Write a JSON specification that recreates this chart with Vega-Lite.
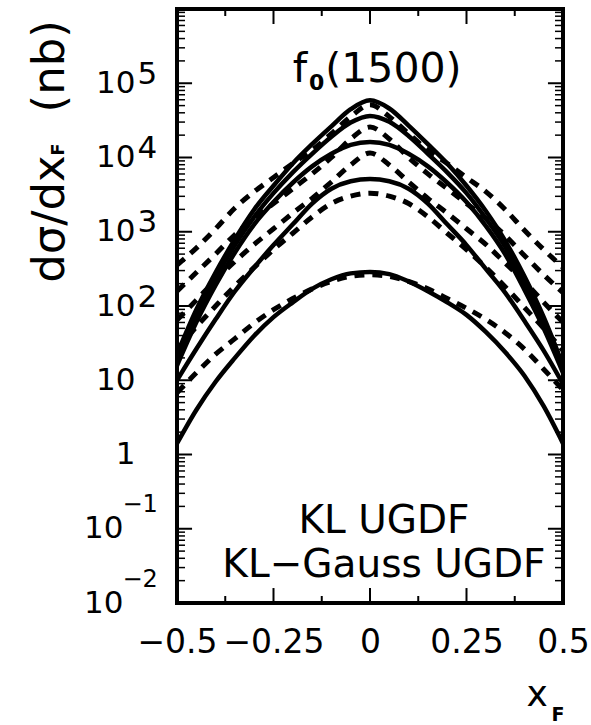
{
"$schema":"https://vega.github.io/schema/vega-lite/v6.json",
"width":386,"height":594,
"autosize":{"type":"none"},
"padding":{"left":177,"top":9,"right":28,"bottom":122},
"background":"white",
"config":{"view":{"stroke":"black","strokeWidth":4},"font":"DejaVu Sans","axis":{"grid":false,"domain":false,"labelColor":"black","titleColor":"black","tickColor":"black","labelFont":"DejaVu Sans","titleFont":"DejaVu Sans","labelOverlap":false,"labelFlush":false,"labelBound":false}},
"resolve":{"axis":{"x":"independent","y":"independent"}},
"datasets":{
"yticks":[
{"s":"L","t":"M","v":0.1,"a":-0.5,"b":-0.461},{"s":"L","t":"M","v":1,"a":-0.5,"b":-0.461},{"s":"L","t":"M","v":10,"a":-0.5,"b":-0.461},{"s":"L","t":"M","v":100,"a":-0.5,"b":-0.461},{"s":"L","t":"M","v":1000,"a":-0.5,"b":-0.461},{"s":"L","t":"M","v":10000,"a":-0.5,"b":-0.461},{"s":"L","t":"M","v":100000,"a":-0.5,"b":-0.461},
{"s":"R","t":"M","v":0.1,"a":0.461,"b":0.5},{"s":"R","t":"M","v":1,"a":0.461,"b":0.5},{"s":"R","t":"M","v":10,"a":0.461,"b":0.5},{"s":"R","t":"M","v":100,"a":0.461,"b":0.5},{"s":"R","t":"M","v":1000,"a":0.461,"b":0.5},{"s":"R","t":"M","v":10000,"a":0.461,"b":0.5},{"s":"R","t":"M","v":100000,"a":0.461,"b":0.5},
{"s":"L","t":"m","v":0.02,"a":-0.5,"b":-0.4793},{"s":"L","t":"m","v":0.03,"a":-0.5,"b":-0.4793},{"s":"L","t":"m","v":0.04,"a":-0.5,"b":-0.4793},{"s":"L","t":"m","v":0.05,"a":-0.5,"b":-0.4793},{"s":"L","t":"m","v":0.06,"a":-0.5,"b":-0.4793},{"s":"L","t":"m","v":0.07,"a":-0.5,"b":-0.4793},{"s":"L","t":"m","v":0.08,"a":-0.5,"b":-0.4793},{"s":"L","t":"m","v":0.09,"a":-0.5,"b":-0.4793},
{"s":"L","t":"m","v":0.2,"a":-0.5,"b":-0.4793},{"s":"L","t":"m","v":0.3,"a":-0.5,"b":-0.4793},{"s":"L","t":"m","v":0.4,"a":-0.5,"b":-0.4793},{"s":"L","t":"m","v":0.5,"a":-0.5,"b":-0.4793},{"s":"L","t":"m","v":0.6,"a":-0.5,"b":-0.4793},{"s":"L","t":"m","v":0.7,"a":-0.5,"b":-0.4793},{"s":"L","t":"m","v":0.8,"a":-0.5,"b":-0.4793},{"s":"L","t":"m","v":0.9,"a":-0.5,"b":-0.4793},
{"s":"L","t":"m","v":2,"a":-0.5,"b":-0.4793},{"s":"L","t":"m","v":3,"a":-0.5,"b":-0.4793},{"s":"L","t":"m","v":4,"a":-0.5,"b":-0.4793},{"s":"L","t":"m","v":5,"a":-0.5,"b":-0.4793},{"s":"L","t":"m","v":6,"a":-0.5,"b":-0.4793},{"s":"L","t":"m","v":7,"a":-0.5,"b":-0.4793},{"s":"L","t":"m","v":8,"a":-0.5,"b":-0.4793},{"s":"L","t":"m","v":9,"a":-0.5,"b":-0.4793},
{"s":"L","t":"m","v":20,"a":-0.5,"b":-0.4793},{"s":"L","t":"m","v":30,"a":-0.5,"b":-0.4793},{"s":"L","t":"m","v":40,"a":-0.5,"b":-0.4793},{"s":"L","t":"m","v":50,"a":-0.5,"b":-0.4793},{"s":"L","t":"m","v":60,"a":-0.5,"b":-0.4793},{"s":"L","t":"m","v":70,"a":-0.5,"b":-0.4793},{"s":"L","t":"m","v":80,"a":-0.5,"b":-0.4793},{"s":"L","t":"m","v":90,"a":-0.5,"b":-0.4793},
{"s":"L","t":"m","v":200,"a":-0.5,"b":-0.4793},{"s":"L","t":"m","v":300,"a":-0.5,"b":-0.4793},{"s":"L","t":"m","v":400,"a":-0.5,"b":-0.4793},{"s":"L","t":"m","v":500,"a":-0.5,"b":-0.4793},{"s":"L","t":"m","v":600,"a":-0.5,"b":-0.4793},{"s":"L","t":"m","v":700,"a":-0.5,"b":-0.4793},{"s":"L","t":"m","v":800,"a":-0.5,"b":-0.4793},{"s":"L","t":"m","v":900,"a":-0.5,"b":-0.4793},
{"s":"L","t":"m","v":2000,"a":-0.5,"b":-0.4793},{"s":"L","t":"m","v":3000,"a":-0.5,"b":-0.4793},{"s":"L","t":"m","v":4000,"a":-0.5,"b":-0.4793},{"s":"L","t":"m","v":5000,"a":-0.5,"b":-0.4793},{"s":"L","t":"m","v":6000,"a":-0.5,"b":-0.4793},{"s":"L","t":"m","v":7000,"a":-0.5,"b":-0.4793},{"s":"L","t":"m","v":8000,"a":-0.5,"b":-0.4793},{"s":"L","t":"m","v":9000,"a":-0.5,"b":-0.4793},
{"s":"L","t":"m","v":20000,"a":-0.5,"b":-0.4793},{"s":"L","t":"m","v":30000,"a":-0.5,"b":-0.4793},{"s":"L","t":"m","v":40000,"a":-0.5,"b":-0.4793},{"s":"L","t":"m","v":50000,"a":-0.5,"b":-0.4793},{"s":"L","t":"m","v":60000,"a":-0.5,"b":-0.4793},{"s":"L","t":"m","v":70000,"a":-0.5,"b":-0.4793},{"s":"L","t":"m","v":80000,"a":-0.5,"b":-0.4793},{"s":"L","t":"m","v":90000,"a":-0.5,"b":-0.4793},
{"s":"L","t":"m","v":200000,"a":-0.5,"b":-0.4793},{"s":"L","t":"m","v":300000,"a":-0.5,"b":-0.4793},{"s":"L","t":"m","v":400000,"a":-0.5,"b":-0.4793},{"s":"L","t":"m","v":500000,"a":-0.5,"b":-0.4793},{"s":"L","t":"m","v":600000,"a":-0.5,"b":-0.4793},{"s":"L","t":"m","v":700000,"a":-0.5,"b":-0.4793},{"s":"L","t":"m","v":800000,"a":-0.5,"b":-0.4793},{"s":"L","t":"m","v":900000,"a":-0.5,"b":-0.4793},
{"s":"R","t":"m","v":0.02,"a":0.4793,"b":0.5},{"s":"R","t":"m","v":0.03,"a":0.4793,"b":0.5},{"s":"R","t":"m","v":0.04,"a":0.4793,"b":0.5},{"s":"R","t":"m","v":0.05,"a":0.4793,"b":0.5},{"s":"R","t":"m","v":0.06,"a":0.4793,"b":0.5},{"s":"R","t":"m","v":0.07,"a":0.4793,"b":0.5},{"s":"R","t":"m","v":0.08,"a":0.4793,"b":0.5},{"s":"R","t":"m","v":0.09,"a":0.4793,"b":0.5},
{"s":"R","t":"m","v":0.2,"a":0.4793,"b":0.5},{"s":"R","t":"m","v":0.3,"a":0.4793,"b":0.5},{"s":"R","t":"m","v":0.4,"a":0.4793,"b":0.5},{"s":"R","t":"m","v":0.5,"a":0.4793,"b":0.5},{"s":"R","t":"m","v":0.6,"a":0.4793,"b":0.5},{"s":"R","t":"m","v":0.7,"a":0.4793,"b":0.5},{"s":"R","t":"m","v":0.8,"a":0.4793,"b":0.5},{"s":"R","t":"m","v":0.9,"a":0.4793,"b":0.5},
{"s":"R","t":"m","v":2,"a":0.4793,"b":0.5},{"s":"R","t":"m","v":3,"a":0.4793,"b":0.5},{"s":"R","t":"m","v":4,"a":0.4793,"b":0.5},{"s":"R","t":"m","v":5,"a":0.4793,"b":0.5},{"s":"R","t":"m","v":6,"a":0.4793,"b":0.5},{"s":"R","t":"m","v":7,"a":0.4793,"b":0.5},{"s":"R","t":"m","v":8,"a":0.4793,"b":0.5},{"s":"R","t":"m","v":9,"a":0.4793,"b":0.5},
{"s":"R","t":"m","v":20,"a":0.4793,"b":0.5},{"s":"R","t":"m","v":30,"a":0.4793,"b":0.5},{"s":"R","t":"m","v":40,"a":0.4793,"b":0.5},{"s":"R","t":"m","v":50,"a":0.4793,"b":0.5},{"s":"R","t":"m","v":60,"a":0.4793,"b":0.5},{"s":"R","t":"m","v":70,"a":0.4793,"b":0.5},{"s":"R","t":"m","v":80,"a":0.4793,"b":0.5},{"s":"R","t":"m","v":90,"a":0.4793,"b":0.5},
{"s":"R","t":"m","v":200,"a":0.4793,"b":0.5},{"s":"R","t":"m","v":300,"a":0.4793,"b":0.5},{"s":"R","t":"m","v":400,"a":0.4793,"b":0.5},{"s":"R","t":"m","v":500,"a":0.4793,"b":0.5},{"s":"R","t":"m","v":600,"a":0.4793,"b":0.5},{"s":"R","t":"m","v":700,"a":0.4793,"b":0.5},{"s":"R","t":"m","v":800,"a":0.4793,"b":0.5},{"s":"R","t":"m","v":900,"a":0.4793,"b":0.5},
{"s":"R","t":"m","v":2000,"a":0.4793,"b":0.5},{"s":"R","t":"m","v":3000,"a":0.4793,"b":0.5},{"s":"R","t":"m","v":4000,"a":0.4793,"b":0.5},{"s":"R","t":"m","v":5000,"a":0.4793,"b":0.5},{"s":"R","t":"m","v":6000,"a":0.4793,"b":0.5},{"s":"R","t":"m","v":7000,"a":0.4793,"b":0.5},{"s":"R","t":"m","v":8000,"a":0.4793,"b":0.5},{"s":"R","t":"m","v":9000,"a":0.4793,"b":0.5},
{"s":"R","t":"m","v":20000,"a":0.4793,"b":0.5},{"s":"R","t":"m","v":30000,"a":0.4793,"b":0.5},{"s":"R","t":"m","v":40000,"a":0.4793,"b":0.5},{"s":"R","t":"m","v":50000,"a":0.4793,"b":0.5},{"s":"R","t":"m","v":60000,"a":0.4793,"b":0.5},{"s":"R","t":"m","v":70000,"a":0.4793,"b":0.5},{"s":"R","t":"m","v":80000,"a":0.4793,"b":0.5},{"s":"R","t":"m","v":90000,"a":0.4793,"b":0.5},
{"s":"R","t":"m","v":200000,"a":0.4793,"b":0.5},{"s":"R","t":"m","v":300000,"a":0.4793,"b":0.5},{"s":"R","t":"m","v":400000,"a":0.4793,"b":0.5},{"s":"R","t":"m","v":500000,"a":0.4793,"b":0.5},{"s":"R","t":"m","v":600000,"a":0.4793,"b":0.5},{"s":"R","t":"m","v":700000,"a":0.4793,"b":0.5},{"s":"R","t":"m","v":800000,"a":0.4793,"b":0.5},{"s":"R","t":"m","v":900000,"a":0.4793,"b":0.5}],
"xticks":[
{"s":"B","t":"M","x":-0.25,"a":0.01,"b":0.0159},{"s":"B","t":"M","x":0,"a":0.01,"b":0.0159},{"s":"B","t":"M","x":0.25,"a":0.01,"b":0.0159},
{"s":"T","t":"M","x":-0.25,"a":1000000,"b":628000},{"s":"T","t":"M","x":0,"a":1000000,"b":628000},{"s":"T","t":"M","x":0.25,"a":1000000,"b":628000},
{"s":"B","t":"m","x":-0.375,"a":0.01,"b":0.01242},{"s":"B","t":"m","x":-0.125,"a":0.01,"b":0.01242},{"s":"B","t":"m","x":0.125,"a":0.01,"b":0.01242},{"s":"B","t":"m","x":0.375,"a":0.01,"b":0.01242},
{"s":"T","t":"m","x":-0.375,"a":1000000,"b":805000},{"s":"T","t":"m","x":-0.125,"a":1000000,"b":805000},{"s":"T","t":"m","x":0.125,"a":1000000,"b":805000},{"s":"T","t":"m","x":0.375,"a":1000000,"b":805000}],
"curves":[
{"curve":"KL-1","model":"KL","x":-0.5,"v":22.4},{"curve":"KL-1","model":"KL","x":-0.45,"v":89.1},{"curve":"KL-1","model":"KL","x":-0.4,"v":282},{"curve":"KL-1","model":"KL","x":-0.35,"v":794},{"curve":"KL-1","model":"KL","x":-0.3,"v":1995},{"curve":"KL-1","model":"KL","x":-0.25,"v":4169},{"curve":"KL-1","model":"KL","x":-0.2,"v":8318},{"curve":"KL-1","model":"KL","x":-0.15,"v":15136},{"curve":"KL-1","model":"KL","x":-0.1,"v":26303},{"curve":"KL-1","model":"KL","x":-0.05,"v":44668},{"curve":"KL-1","model":"KL","x":0,"v":58884},{"curve":"KL-1","model":"KL","x":0.05,"v":45709},{"curve":"KL-1","model":"KL","x":0.1,"v":26915},{"curve":"KL-1","model":"KL","x":0.15,"v":15136},{"curve":"KL-1","model":"KL","x":0.2,"v":8318},{"curve":"KL-1","model":"KL","x":0.25,"v":4169},{"curve":"KL-1","model":"KL","x":0.3,"v":1905},{"curve":"KL-1","model":"KL","x":0.35,"v":759},{"curve":"KL-1","model":"KL","x":0.4,"v":251},{"curve":"KL-1","model":"KL","x":0.45,"v":70.8},{"curve":"KL-1","model":"KL","x":0.5,"v":15.8},
{"curve":"KL-2","model":"KL","x":-0.5,"v":20.0},{"curve":"KL-2","model":"KL","x":-0.45,"v":75.9},{"curve":"KL-2","model":"KL","x":-0.4,"v":240},{"curve":"KL-2","model":"KL","x":-0.35,"v":661},{"curve":"KL-2","model":"KL","x":-0.3,"v":1585},{"curve":"KL-2","model":"KL","x":-0.25,"v":3311},{"curve":"KL-2","model":"KL","x":-0.2,"v":6310},{"curve":"KL-2","model":"KL","x":-0.15,"v":11220},{"curve":"KL-2","model":"KL","x":-0.1,"v":19055},{"curve":"KL-2","model":"KL","x":-0.05,"v":29512},{"curve":"KL-2","model":"KL","x":0,"v":36308},{"curve":"KL-2","model":"KL","x":0.05,"v":30200},{"curve":"KL-2","model":"KL","x":0.1,"v":19498},{"curve":"KL-2","model":"KL","x":0.15,"v":11220},{"curve":"KL-2","model":"KL","x":0.2,"v":6310},{"curve":"KL-2","model":"KL","x":0.25,"v":3311},{"curve":"KL-2","model":"KL","x":0.3,"v":1514},{"curve":"KL-2","model":"KL","x":0.35,"v":631},{"curve":"KL-2","model":"KL","x":0.4,"v":209},{"curve":"KL-2","model":"KL","x":0.45,"v":60.3},{"curve":"KL-2","model":"KL","x":0.5,"v":14.1},
{"curve":"KL-3","model":"KL","x":-0.5,"v":15.8},{"curve":"KL-3","model":"KL","x":-0.45,"v":60.3},{"curve":"KL-3","model":"KL","x":-0.4,"v":191},{"curve":"KL-3","model":"KL","x":-0.35,"v":525},{"curve":"KL-3","model":"KL","x":-0.3,"v":1259},{"curve":"KL-3","model":"KL","x":-0.25,"v":2512},{"curve":"KL-3","model":"KL","x":-0.2,"v":4571},{"curve":"KL-3","model":"KL","x":-0.15,"v":7586},{"curve":"KL-3","model":"KL","x":-0.1,"v":11220},{"curve":"KL-3","model":"KL","x":-0.05,"v":14791},{"curve":"KL-3","model":"KL","x":0,"v":16218},{"curve":"KL-3","model":"KL","x":0.05,"v":14791},{"curve":"KL-3","model":"KL","x":0.1,"v":11220},{"curve":"KL-3","model":"KL","x":0.15,"v":7586},{"curve":"KL-3","model":"KL","x":0.2,"v":4571},{"curve":"KL-3","model":"KL","x":0.25,"v":2512},{"curve":"KL-3","model":"KL","x":0.3,"v":1202},{"curve":"KL-3","model":"KL","x":0.35,"v":501},{"curve":"KL-3","model":"KL","x":0.4,"v":166},{"curve":"KL-3","model":"KL","x":0.45,"v":50.1},{"curve":"KL-3","model":"KL","x":0.5,"v":12.6},
{"curve":"KL-4","model":"KL","x":-0.5,"v":10.0},{"curve":"KL-4","model":"KL","x":-0.45,"v":26.3},{"curve":"KL-4","model":"KL","x":-0.4,"v":66.1},{"curve":"KL-4","model":"KL","x":-0.35,"v":158},{"curve":"KL-4","model":"KL","x":-0.3,"v":331},{"curve":"KL-4","model":"KL","x":-0.25,"v":661},{"curve":"KL-4","model":"KL","x":-0.2,"v":1259},{"curve":"KL-4","model":"KL","x":-0.15,"v":2399},{"curve":"KL-4","model":"KL","x":-0.1,"v":3802},{"curve":"KL-4","model":"KL","x":-0.05,"v":4786},{"curve":"KL-4","model":"KL","x":0,"v":5129},{"curve":"KL-4","model":"KL","x":0.05,"v":4786},{"curve":"KL-4","model":"KL","x":0.1,"v":3802},{"curve":"KL-4","model":"KL","x":0.15,"v":2399},{"curve":"KL-4","model":"KL","x":0.2,"v":1259},{"curve":"KL-4","model":"KL","x":0.25,"v":661},{"curve":"KL-4","model":"KL","x":0.3,"v":316},{"curve":"KL-4","model":"KL","x":0.35,"v":151},{"curve":"KL-4","model":"KL","x":0.4,"v":63.1},{"curve":"KL-4","model":"KL","x":0.45,"v":25.1},{"curve":"KL-4","model":"KL","x":0.5,"v":8.91},
{"curve":"KL-5","model":"KL","x":-0.5,"v":1.41},{"curve":"KL-5","model":"KL","x":-0.45,"v":3.98},{"curve":"KL-5","model":"KL","x":-0.4,"v":9.55},{"curve":"KL-5","model":"KL","x":-0.35,"v":20.0},{"curve":"KL-5","model":"KL","x":-0.3,"v":39.8},{"curve":"KL-5","model":"KL","x":-0.25,"v":70.8},{"curve":"KL-5","model":"KL","x":-0.2,"v":112},{"curve":"KL-5","model":"KL","x":-0.15,"v":170},{"curve":"KL-5","model":"KL","x":-0.1,"v":229},{"curve":"KL-5","model":"KL","x":-0.05,"v":275},{"curve":"KL-5","model":"KL","x":0,"v":288},{"curve":"KL-5","model":"KL","x":0.05,"v":269},{"curve":"KL-5","model":"KL","x":0.1,"v":214},{"curve":"KL-5","model":"KL","x":0.15,"v":158},{"curve":"KL-5","model":"KL","x":0.2,"v":112},{"curve":"KL-5","model":"KL","x":0.25,"v":75.9},{"curve":"KL-5","model":"KL","x":0.3,"v":44.7},{"curve":"KL-5","model":"KL","x":0.35,"v":24.0},{"curve":"KL-5","model":"KL","x":0.4,"v":11.5},{"curve":"KL-5","model":"KL","x":0.45,"v":4.47},{"curve":"KL-5","model":"KL","x":0.5,"v":1.41},
{"curve":"KLG-1","model":"KLG","x":-0.5,"v":355},{"curve":"KLG-1","model":"KLG","x":-0.45,"v":603},{"curve":"KLG-1","model":"KLG","x":-0.4,"v":1096},{"curve":"KLG-1","model":"KLG","x":-0.35,"v":2089},{"curve":"KLG-1","model":"KLG","x":-0.3,"v":3467},{"curve":"KLG-1","model":"KLG","x":-0.25,"v":5370},{"curve":"KLG-1","model":"KLG","x":-0.2,"v":8318},{"curve":"KLG-1","model":"KLG","x":-0.15,"v":12589},{"curve":"KLG-1","model":"KLG","x":-0.1,"v":20893},{"curve":"KLG-1","model":"KLG","x":-0.05,"v":35481},{"curve":"KLG-1","model":"KLG","x":0,"v":51286},{"curve":"KLG-1","model":"KLG","x":0.05,"v":35481},{"curve":"KLG-1","model":"KLG","x":0.1,"v":20893},{"curve":"KLG-1","model":"KLG","x":0.15,"v":12589},{"curve":"KLG-1","model":"KLG","x":0.2,"v":8318},{"curve":"KLG-1","model":"KLG","x":0.25,"v":5370},{"curve":"KLG-1","model":"KLG","x":0.3,"v":3467},{"curve":"KLG-1","model":"KLG","x":0.35,"v":1995},{"curve":"KLG-1","model":"KLG","x":0.4,"v":1047},{"curve":"KLG-1","model":"KLG","x":0.45,"v":575},{"curve":"KLG-1","model":"KLG","x":0.5,"v":331},
{"curve":"KLG-2","model":"KLG","x":-0.5,"v":158},{"curve":"KLG-2","model":"KLG","x":-0.45,"v":282},{"curve":"KLG-2","model":"KLG","x":-0.4,"v":501},{"curve":"KLG-2","model":"KLG","x":-0.35,"v":912},{"curve":"KLG-2","model":"KLG","x":-0.3,"v":1514},{"curve":"KLG-2","model":"KLG","x":-0.25,"v":2399},{"curve":"KLG-2","model":"KLG","x":-0.2,"v":3802},{"curve":"KLG-2","model":"KLG","x":-0.15,"v":6026},{"curve":"KLG-2","model":"KLG","x":-0.1,"v":10000},{"curve":"KLG-2","model":"KLG","x":-0.05,"v":17783},{"curve":"KLG-2","model":"KLG","x":0,"v":25704},{"curve":"KLG-2","model":"KLG","x":0.05,"v":17783},{"curve":"KLG-2","model":"KLG","x":0.1,"v":10000},{"curve":"KLG-2","model":"KLG","x":0.15,"v":6026},{"curve":"KLG-2","model":"KLG","x":0.2,"v":3802},{"curve":"KLG-2","model":"KLG","x":0.25,"v":2399},{"curve":"KLG-2","model":"KLG","x":0.3,"v":1514},{"curve":"KLG-2","model":"KLG","x":0.35,"v":891},{"curve":"KLG-2","model":"KLG","x":0.4,"v":479},{"curve":"KLG-2","model":"KLG","x":0.45,"v":263},{"curve":"KLG-2","model":"KLG","x":0.5,"v":151},
{"curve":"KLG-3","model":"KLG","x":-0.5,"v":64.6},{"curve":"KLG-3","model":"KLG","x":-0.45,"v":120},{"curve":"KLG-3","model":"KLG","x":-0.4,"v":224},{"curve":"KLG-3","model":"KLG","x":-0.35,"v":398},{"curve":"KLG-3","model":"KLG","x":-0.3,"v":676},{"curve":"KLG-3","model":"KLG","x":-0.25,"v":1096},{"curve":"KLG-3","model":"KLG","x":-0.2,"v":1778},{"curve":"KLG-3","model":"KLG","x":-0.15,"v":2818},{"curve":"KLG-3","model":"KLG","x":-0.1,"v":4677},{"curve":"KLG-3","model":"KLG","x":-0.05,"v":7943},{"curve":"KLG-3","model":"KLG","x":0,"v":11482},{"curve":"KLG-3","model":"KLG","x":0.05,"v":7943},{"curve":"KLG-3","model":"KLG","x":0.1,"v":4677},{"curve":"KLG-3","model":"KLG","x":0.15,"v":2818},{"curve":"KLG-3","model":"KLG","x":0.2,"v":1778},{"curve":"KLG-3","model":"KLG","x":0.25,"v":1096},{"curve":"KLG-3","model":"KLG","x":0.3,"v":676},{"curve":"KLG-3","model":"KLG","x":0.35,"v":380},{"curve":"KLG-3","model":"KLG","x":0.4,"v":214},{"curve":"KLG-3","model":"KLG","x":0.45,"v":112},{"curve":"KLG-3","model":"KLG","x":0.5,"v":60.3},
{"curve":"KLG-4","model":"KLG","x":-0.5,"v":25.7},{"curve":"KLG-4","model":"KLG","x":-0.45,"v":52.5},{"curve":"KLG-4","model":"KLG","x":-0.4,"v":100},{"curve":"KLG-4","model":"KLG","x":-0.35,"v":186},{"curve":"KLG-4","model":"KLG","x":-0.3,"v":331},{"curve":"KLG-4","model":"KLG","x":-0.25,"v":575},{"curve":"KLG-4","model":"KLG","x":-0.2,"v":955},{"curve":"KLG-4","model":"KLG","x":-0.15,"v":1585},{"curve":"KLG-4","model":"KLG","x":-0.1,"v":2399},{"curve":"KLG-4","model":"KLG","x":-0.05,"v":3020},{"curve":"KLG-4","model":"KLG","x":0,"v":3311},{"curve":"KLG-4","model":"KLG","x":0.05,"v":3020},{"curve":"KLG-4","model":"KLG","x":0.1,"v":2399},{"curve":"KLG-4","model":"KLG","x":0.15,"v":1585},{"curve":"KLG-4","model":"KLG","x":0.2,"v":955},{"curve":"KLG-4","model":"KLG","x":0.25,"v":575},{"curve":"KLG-4","model":"KLG","x":0.3,"v":331},{"curve":"KLG-4","model":"KLG","x":0.35,"v":182},{"curve":"KLG-4","model":"KLG","x":0.4,"v":95.5},{"curve":"KLG-4","model":"KLG","x":0.45,"v":50.1},{"curve":"KLG-4","model":"KLG","x":0.5,"v":25.1},
{"curve":"KLG-5","model":"KLG","x":-0.5,"v":6.76},{"curve":"KLG-5","model":"KLG","x":-0.45,"v":12.6},{"curve":"KLG-5","model":"KLG","x":-0.4,"v":22.4},{"curve":"KLG-5","model":"KLG","x":-0.35,"v":36.3},{"curve":"KLG-5","model":"KLG","x":-0.3,"v":58.9},{"curve":"KLG-5","model":"KLG","x":-0.25,"v":89.1},{"curve":"KLG-5","model":"KLG","x":-0.2,"v":126},{"curve":"KLG-5","model":"KLG","x":-0.15,"v":170},{"curve":"KLG-5","model":"KLG","x":-0.1,"v":214},{"curve":"KLG-5","model":"KLG","x":-0.05,"v":251},{"curve":"KLG-5","model":"KLG","x":0,"v":263},{"curve":"KLG-5","model":"KLG","x":0.05,"v":251},{"curve":"KLG-5","model":"KLG","x":0.1,"v":214},{"curve":"KLG-5","model":"KLG","x":0.15,"v":170},{"curve":"KLG-5","model":"KLG","x":0.2,"v":126},{"curve":"KLG-5","model":"KLG","x":0.25,"v":93.3},{"curve":"KLG-5","model":"KLG","x":0.3,"v":66.1},{"curve":"KLG-5","model":"KLG","x":0.35,"v":43.7},{"curve":"KLG-5","model":"KLG","x":0.4,"v":26.3},{"curve":"KLG-5","model":"KLG","x":0.45,"v":14.1},{"curve":"KLG-5","model":"KLG","x":0.5,"v":7.41}
]},
"layer":[
{"data":{"name":"yticks"},"transform":[{"filter":"datum.t == 'M'"},{"fold":["a","b"],"as":["end","xe"]}],
 "mark":{"type":"line","color":"black","strokeWidth":2,"strokeCap":"butt"},
 "encoding":{"x":{"field":"xe","type":"quantitative","scale":{"domain":[-0.5,0.5],"nice":false,"zero":false},"axis":null},"y":{"field":"v","type":"quantitative","scale":{"type":"log","domain":[0.01,1000000],"nice":false},"axis":null},"detail":[{"field":"s"},{"field":"v"}],"order":{"field":"end"}}},
{"data":{"name":"yticks"},"transform":[{"filter":"datum.t == 'm'"},{"fold":["a","b"],"as":["end","xe"]}],
 "mark":{"type":"line","color":"black","strokeWidth":1.5,"strokeCap":"butt"},
 "encoding":{"x":{"field":"xe","type":"quantitative","scale":{"domain":[-0.5,0.5],"nice":false,"zero":false},"axis":null},"y":{"field":"v","type":"quantitative","scale":{"type":"log","domain":[0.01,1000000],"nice":false},"axis":null},"detail":[{"field":"s"},{"field":"v"}],"order":{"field":"end"}}},
{"data":{"name":"xticks"},"transform":[{"fold":["a","b"],"as":["end","ye"]}],
 "mark":{"type":"line","color":"black","strokeWidth":2,"strokeCap":"butt"},
 "encoding":{"x":{"field":"x","type":"quantitative","scale":{"domain":[-0.5,0.5],"nice":false,"zero":false},"axis":null},"y":{"field":"ye","type":"quantitative","scale":{"type":"log","domain":[0.01,1000000],"nice":false},"axis":null},"detail":[{"field":"s"},{"field":"x"}],"order":{"field":"end"}}},
{"data":{"name":"curves"},"transform":[{"filter":"datum.model == 'KL'"}],
 "mark":{"type":"line","color":"black","strokeWidth":4.5,"interpolate":"monotone","clip":true},
 "encoding":{
  "x":{"field":"x","type":"quantitative","scale":{"domain":[-0.5,0.5],"nice":false,"zero":false},
   "axis":{"orient":"bottom","values":[-0.5,-0.25,0,0.25,0.5],"ticks":false,"labelFontSize":33,"labelBaseline":"alphabetic","labelPadding":49,"labelExpr":"datum.value == 0 ? '0' : (datum.value < 0 ? '−' : '') + format(abs(datum.value), '')","title":null}},
  "y":{"field":"v","type":"quantitative","scale":{"type":"log","domain":[0.01,1000000],"nice":false},
   "axis":{"orient":"left","values":[0.01,0.1,1,10,100,1000,10000,100000],"ticks":false,"labelExpr":"datum.value == 1 ? '1' : '10'","labelFontSize":31,"labelAlign":"right","labelBaseline":"middle","labelPadding":{"condition":{"test":"datum.value < 1","value":54},"value":42},
    "title":"dσ/dx\u00a0\u00a0\u00a0(nb)","titleFontSize":45,"titleFontWeight":"normal","titleAngle":270,"titleAlign":"center","titleBaseline":"alphabetic","titleX":-114,"titleY":142}},
  "detail":{"field":"curve"}}},
{"data":{"name":"curves"},"transform":[{"filter":"datum.model == 'KLG'"}],
 "mark":{"type":"line","color":"black","strokeWidth":5,"strokeDash":[10,8],"interpolate":"monotone","clip":true},
 "encoding":{
  "x":{"field":"x","type":"quantitative","scale":{"domain":[-0.5,0.5],"nice":false,"zero":false},
   "axis":{"orient":"bottom","labels":false,"ticks":false,"values":[],"title":"x","titleFontSize":36,"titleFontWeight":"normal","titleAlign":"left","titleBaseline":"alphabetic","titleX":349,"titleY":102}},
  "y":{"field":"v","type":"quantitative","scale":{"type":"log","domain":[0.01,1000000],"nice":false},
   "axis":{"orient":"left","values":[0.01,0.1,100,1000,10000,100000],"ticks":false,"labelExpr":"datum.value < 1 ? '−' + round(-log(datum.value)/LN10) : '' + round(log(datum.value)/LN10)","labelAlign":"left","labelBaseline":"middle","labelFontSize":{"condition":{"test":"datum.value < 1","value":24},"value":31},"labelPadding":{"condition":{"test":"datum.value < 1","value":55},"value":40},"labelOffset":{"condition":{"test":"datum.value < 1","value":-24},"value":-9},"title":null}},
  "detail":{"field":"curve"}}},
{"data":{"values":[{}]},"mark":{"type":"point","opacity":0},
 "encoding":{
  "x":{"datum":0,"type":"quantitative","scale":{"domain":[-0.5,0.5],"nice":false,"zero":false},
   "axis":{"orient":"bottom","labels":false,"ticks":false,"values":[],"title":"F","titleFontSize":19,"titleFontWeight":"bold","titleAlign":"left","titleBaseline":"alphabetic","titleX":374,"titleY":117}},
  "y":{"datum":1,"type":"quantitative","scale":{"type":"log","domain":[0.01,1000000],"nice":false},
   "axis":{"orient":"left","labels":false,"ticks":false,"values":[],"title":"F","titleFontSize":18,"titleFontWeight":"bold","titleAngle":270,"titleAlign":"center","titleBaseline":"alphabetic","titleX":-114,"titleY":140}}}},
{"data":{"values":[{"label":"f"}]},"mark":{"type":"text","fontSize":41,"align":"left","baseline":"alphabetic","color":"black"},
 "encoding":{"x":{"datum":-0.2,"type":"quantitative","scale":{"domain":[-0.5,0.5],"nice":false,"zero":false},"axis":null},"y":{"datum":104000,"type":"quantitative","scale":{"type":"log","domain":[0.01,1000000],"nice":false},"axis":null},"text":{"field":"label"}}},
{"data":{"values":[{"label":"0"}]},"mark":{"type":"text","fontSize":22,"fontWeight":"bold","align":"left","baseline":"alphabetic","color":"black"},
 "encoding":{"x":{"datum":-0.158,"type":"quantitative","scale":{"domain":[-0.5,0.5],"nice":false,"zero":false},"axis":null},"y":{"datum":81000,"type":"quantitative","scale":{"type":"log","domain":[0.01,1000000],"nice":false},"axis":null},"text":{"field":"label"}}},
{"data":{"values":[{"label":"(1500)"}]},"mark":{"type":"text","fontSize":41,"align":"left","baseline":"alphabetic","color":"black"},
 "encoding":{"x":{"datum":-0.116,"type":"quantitative","scale":{"domain":[-0.5,0.5],"nice":false,"zero":false},"axis":null},"y":{"datum":104000,"type":"quantitative","scale":{"type":"log","domain":[0.01,1000000],"nice":false},"axis":null},"text":{"field":"label"}}},
{"data":{"values":[{"label":"KL UGDF"}]},"mark":{"type":"text","fontSize":39,"align":"center","baseline":"alphabetic","color":"black"},
 "encoding":{"x":{"datum":0.036,"type":"quantitative","scale":{"domain":[-0.5,0.5],"nice":false,"zero":false},"axis":null},"y":{"datum":0.0877,"type":"quantitative","scale":{"type":"log","domain":[0.01,1000000],"nice":false},"axis":null},"text":{"field":"label"}}},
{"data":{"values":[{"label":"KL−Gauss UGDF"}]},"mark":{"type":"text","fontSize":39,"align":"center","baseline":"alphabetic","color":"black"},
 "encoding":{"x":{"datum":0.036,"type":"quantitative","scale":{"domain":[-0.5,0.5],"nice":false,"zero":false},"axis":null},"y":{"datum":0.0224,"type":"quantitative","scale":{"type":"log","domain":[0.01,1000000],"nice":false},"axis":null},"text":{"field":"label"}}}
]
}
